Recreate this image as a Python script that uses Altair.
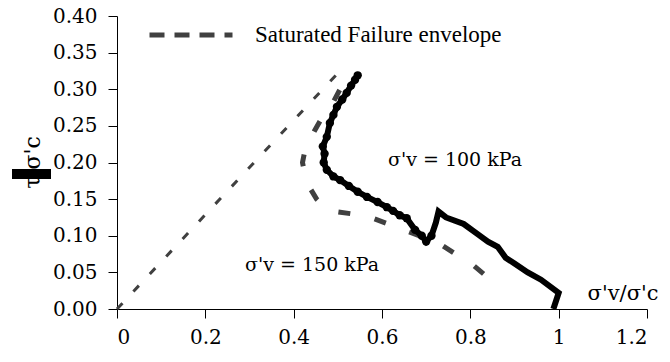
import altair as alt
import pandas as pd

env_x = [0.0, 0.5]
env_y = [0.0, 0.322]
env_name = "Saturated Failure envelope"

p150_x = [0.830, 0.808, 0.731, 0.650, 0.566, 0.484, 0.470, 0.452, 0.437, 0.426,
          0.420, 0.425, 0.435, 0.447, 0.460, 0.475, 0.490, 0.505, 0.520, 0.530]
p150_y = [0.048, 0.059, 0.089, 0.108, 0.127, 0.134, 0.139, 0.150, 0.165, 0.182,
          0.200, 0.215, 0.228, 0.243, 0.257, 0.270, 0.283, 0.300, 0.310, 0.316]

p100_x = [0.988, 1.000, 0.960, 0.930, 0.900, 0.880, 0.862, 0.840, 0.815, 0.785,
          0.745, 0.728, 0.722, 0.712, 0.700, 0.690, 0.675, 0.656, 0.640, 0.625,
          0.611, 0.590, 0.566, 0.545, 0.525, 0.505, 0.490, 0.475, 0.468, 0.470,
          0.466, 0.475, 0.482, 0.490, 0.498, 0.510, 0.520, 0.530, 0.539, 0.545]
p100_y = [0.000, 0.022, 0.040, 0.050, 0.062, 0.070, 0.085, 0.092, 0.103, 0.116,
          0.125, 0.133, 0.118, 0.100, 0.092, 0.100, 0.108, 0.124, 0.128, 0.134,
          0.139, 0.146, 0.153, 0.160, 0.168, 0.176, 0.181, 0.190, 0.200, 0.212,
          0.222, 0.235, 0.254, 0.265, 0.276, 0.286, 0.295, 0.305, 0.313, 0.319]

ann_label = ["σ'v = 100 kPa", "σ'v = 150 kPa"]
ann_x = [0.6135, 0.290]
ann_y = [0.195, 0.052]

x_ticks = [0, 0.2, 0.4, 0.6, 0.8, 1.0, 1.2]
y_ticks = [0, 0.05, 0.10, 0.15, 0.20, 0.25, 0.30, 0.35, 0.40]

SERIF = "DejaVu Serif"

env_df = pd.DataFrame({"x": env_x, "y": env_y, "series": [env_name] * len(env_x), "o": range(len(env_x))})
p150_df = pd.DataFrame({"x": p150_x, "y": p150_y, "o": range(len(p150_x))})
p100_df = pd.DataFrame({"x": p100_x, "y": p100_y, "o": range(len(p100_x))})
ann_df = pd.DataFrame({"x": ann_x, "y": ann_y, "label": ann_label})

X = alt.X("x:Q",
          scale=alt.Scale(domain=[0, 1.2], nice=False, zero=False),
          axis=alt.Axis(values=x_ticks, format="~g", title="σ'v/σ'c",
                        titleX=541, titleY=-10, titleAlign="right",
                        titleBaseline="alphabetic", titleAngle=0,
                        titleFont=SERIF, titleFontSize=21, titleFontWeight="normal",
                        titleColor="black", labelPadding=9,
                        labelFont=SERIF, labelFontSize=20, labelColor="black",
                        domainColor="black", tickColor="black", tickSize=9, grid=False))
Y = alt.Y("y:Q",
          scale=alt.Scale(domain=[0, 0.4], nice=False, zero=False),
          axis=alt.Axis(values=y_ticks, format=".2f", title="τ  σ'c",
                        titleX=-85, titleY=146, titleAngle=270, titleAlign="center",
                        titleFont=SERIF, titleBaseline="middle", titleFontSize=22,
                        titleFontWeight="normal", titleColor="black", labelPadding=11,
                        labelFont=SERIF, labelFontSize=20, labelColor="black",
                        domainColor="black", tickColor="black", tickSize=9, grid=False))

envelope = alt.Chart(env_df).mark_line(strokeWidth=3, strokeDash=[8, 16]).encode(
    x=X, y=Y, order="o:Q",
    color=alt.Color("series:N",
                    scale=alt.Scale(domain=[env_name], range=["#404040"]),
                    legend=alt.Legend(title=None, orient="none", legendX=30, legendY=-25,
                                      symbolType="stroke", symbolSize=6889,
                                      symbolStrokeWidth=5, symbolDash=[15, 10],
                                      symbolStrokeColor="#404040",
                                      labelFont="Liberation Serif",
                                      labelFontSize=23, labelColor="black",
                                      labelOffset=20, labelLimit=400)))

path150 = alt.Chart(p150_df).mark_line(color="#404040", strokeWidth=5, strokeDash=[12, 25]).encode(
    x=X, y=Y, order="o:Q")

path100 = alt.Chart(p100_df).mark_line(color="black", strokeWidth=6).encode(
    x=X, y=Y, order="o:Q")

blobs = alt.Chart(p100_df).transform_filter("datum.x < 0.72").mark_circle(
    color="black", size=70, opacity=1).encode(x=X, y=Y)

ann = alt.Chart(ann_df).mark_text(align="left", baseline="alphabetic", font=SERIF,
                                  fontSize=19, color="black").encode(
    x=X, y=Y, text="label:N")

block = alt.Chart(pd.DataFrame({"a": [0]})).mark_rect(color="black").encode(
    x=alt.value(-105), x2=alt.value(-66), y=alt.value(153), y2=alt.value(163))

chart = alt.layer(envelope, path150, path100, blobs, ann, block).properties(
    width=530, height=293,
    background="white",
    autosize=alt.AutoSizeParams(type="none"),
    padding={"left": 117, "top": 16, "right": 23, "bottom": 53},
).configure_view(stroke=None)

chart.save("out.html", embed_options={"renderer": "svg", "actions": False})
